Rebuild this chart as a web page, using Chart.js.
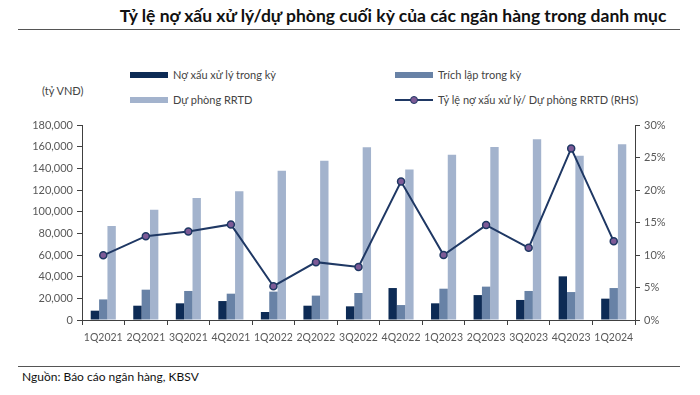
<!DOCTYPE html>
<html>
<head>
<meta charset="utf-8">
<script src="https://cdn.jsdelivr.net/npm/chart.js@4"></script>
<style>
  body { margin: 0; background: #fff; font-family: Lato, "Open Sans", sans-serif; }
  #wrap { position: relative; width: 700px; height: 395px; overflow: hidden; }
  #title { position: absolute; left: 0; width: 786px; top: 5px; text-align: center; font-weight: bold; font-size: 17.5px; color: #111; }
  .rule { position: absolute; left: 18px; width: 662px; height: 1px; background: #555; }
  #unit { position: absolute; left: 42px; top: 84px; font-size: 11px; color: #444; }
  .leg { position: absolute; font-size: 11px; color: #444; display: flex; align-items: center; }
  .sw { display: inline-block; width: 38px; height: 6px; margin-right: 5px; }
  .lsw { position: relative; width: 38px; height: 2px; margin-right: 5px; background: #1f3864; }
  .lsw i { position: absolute; left: 15px; top: -3px; width: 6px; height: 6px; border-radius: 50%; background: #7d5a96; border: 1px solid #1f3864; }
  #foot { position: absolute; left: 22px; top: 369px; font-size: 12px; color: #111; }
  #chartbox { position: absolute; left: 0; top: 110px; }
</style>
</head>
<body>
<div id="wrap">
  <div id="title">Tỷ lệ nợ xấu xử lý/dự phòng cuối kỳ của các ngân hàng trong danh mục</div>
  <div class="rule" style="top:29px"></div>
  <div id="unit">(tỷ VNĐ)</div>
  <div id="legend"></div>
  <div id="chartbox"><canvas id="c" width="700" height="240"></canvas></div>
  <div class="rule" style="top:366px"></div>
  <div id="foot">Nguồn: Báo cáo ngân hàng, KBSV</div>
</div>
<script>
const quarters = ['1Q2021','2Q2021','3Q2021','4Q2021','1Q2022','2Q2022','3Q2022','4Q2022','1Q2023','2Q2023','3Q2023','4Q2023','1Q2024'];
const written_off = [8600, 13200, 15400, 17500, 7400, 13200, 12600, 29500, 15400, 23000, 18500, 40300, 19700];
const provisioned = [19000, 28000, 26800, 24300, 26200, 22500, 24900, 13800, 28900, 30800, 26800, 25800, 29500];
const reserve = [86800, 101800, 112600, 118800, 137800, 147000, 159400, 139000, 152600, 159700, 166800, 151700, 162200];
const ratio = [9.95, 12.9, 13.6, 14.7, 5.2, 8.9, 8.15, 21.3, 10.0, 14.6, 11.1, 26.4, 12.1];

const navy = '#0d2b55', steel = '#6882a6', pale = '#a3b3cd', lineCol = '#1f3864';
const tickCol = '#595959', axisCol = '#404040';
const fontfam = 'Lato, "Open Sans", sans-serif';

// legend laid out in two columns like the source
const legendItems = [
  {label: 'Nợ xấu xử lý trong  kỳ', color: navy, x: 130, y: 68},
  {label: 'Trích lập trong kỳ', color: steel, x: 395, y: 68},
  {label: 'Dự phòng RRTD', color: pale, x: 130, y: 93},
  {label: 'Tỷ lệ nợ xấu xử lý/ Dự phòng RRTD (RHS)', line: true, x: 395, y: 93}
];
const legendBox = document.getElementById('legend');
for(const it of legendItems) {
  const d = document.createElement('div');
  d.className = 'leg';
  d.style.left = it.x + 'px';
  d.style.top = it.y + 'px';
  d.innerHTML = it.line ? '<span class="lsw"><i></i></span>' : `<span class="sw" style="background:${it.color}"></span>`;
  d.appendChild(document.createTextNode(it.label));
  legendBox.appendChild(d);
}

const axisGrid = {display: true, drawOnChartArea: false, drawTicks: true, tickLength: 5, color: axisCol};

new Chart(document.getElementById('c'), {
  data: {
    labels: quarters,
    datasets: [
      {type: 'line', label: 'ratio', data: ratio, yAxisID: 'y2', borderColor: lineCol, borderWidth: 2,
        pointRadius: 3.5, pointBackgroundColor: '#7d5a96', pointBorderColor: lineCol, pointBorderWidth: 1.5, order: 0},
      {type: 'bar', label: 'written', data: written_off, backgroundColor: navy, yAxisID: 'y', order: 1},
      {type: 'bar', label: 'prov', data: provisioned, backgroundColor: steel, yAxisID: 'y', order: 1},
      {type: 'bar', label: 'reserve', data: reserve, backgroundColor: pale, yAxisID: 'y', order: 1}
    ]
  },
  options: {
    responsive: false,
    animation: false,
    layout: {padding: {top: 15, right: 0, left: 0, bottom: 0}},
    datasets: {bar: {categoryPercentage: 0.59, barPercentage: 1.0}},
    plugins: {legend: {display: false}, tooltip: {enabled: false}},
    scales: {
      x: {
        grid: {...axisGrid, offset: true},
        border: {color: axisCol, width: 1},
        ticks: {color: tickCol, font: {family: fontfam, size: 10.5}, maxRotation: 0, autoSkip: false, padding: 6},
        afterFit: s => { s.height = 30; }
      },
      y: {
        position: 'left', min: 0, max: 180000,
        grid: axisGrid,
        border: {color: axisCol, width: 1},
        ticks: {stepSize: 20000, color: tickCol, font: {family: fontfam, size: 11}, padding: 4,
          callback: v => v.toLocaleString('en-US')},
        afterFit: s => { s.width = 82; }
      },
      y2: {
        position: 'right', min: 0, max: 30,
        grid: axisGrid,
        border: {color: axisCol, width: 1},
        ticks: {stepSize: 5, color: tickCol, font: {family: fontfam, size: 11}, padding: 4,
          callback: v => v + '%'},
        afterFit: s => { s.width = 65; }
      }
    }
  }
});
</script>
</body>
</html>
